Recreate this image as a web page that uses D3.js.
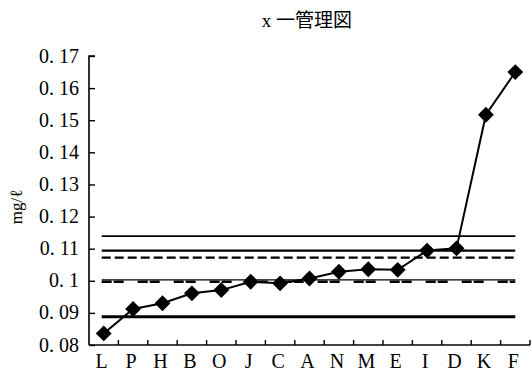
<!DOCTYPE html>
<html>
<head>
<meta charset="utf-8">
<script src="https://cdn.jsdelivr.net/npm/d3@7"></script>
<style>
  html, body { margin: 0; padding: 0; background: #fff; }
  svg { display: block; }
</style>
</head>
<body>
<svg id="chart" width="532" height="376"></svg>
<script>
// Laboratories, sorted by their mean result
const labs = ["L","P","H","B","O","J","C","A","N","M","E","I","D","K","F"];
// Mean concentration per laboratory (mg/ℓ)
const means = [0.0836,0.0912,0.0930,0.0961,0.0971,0.0997,0.0992,0.1007,0.1028,0.1036,0.1034,0.1094,0.1101,0.1517,0.1650];
// Y axis tick values
const yTicks = [0.08,0.09,0.10,0.11,0.12,0.13,0.14,0.15,0.16,0.17];
const yTickLabels = ["0. 08","0. 09","0. 1","0. 11","0. 12","0. 13","0. 14","0. 15","0. 16","0. 17"];
// Control limits: solid lines
const solidLimits = [0.1139, 0.1094, 0.0888];
const solidWidths = [1.6, 2.2, 3.2];
// Control limits: dashed lines
const dashedLimits = [0.1072];
// Centre line (drawn solid and dashed together)
const centreLine = [0.1003, 0.0997];

const svg = d3.select("#chart");
const serif = "'Liberation Serif','DejaVu Serif',serif";

const x = d3.scaleBand().domain(labs).range([89, 530]);
const y = d3.scaleLinear().domain([0.08, 0.17]).range([345, 56]);
const cx = d => x(d) + x.bandwidth() / 2;

// Title
svg.append("text")
  .attr("x", 307).attr("y", 27)
  .attr("text-anchor", "middle")
  .attr("font-family", "'Liberation Serif','Noto Sans CJK JP',serif")
  .attr("font-size", 19)
  .text("x 一管理図");

// Y axis (ticks pointing inward)
const yAxis = d3.axisRight(y)
  .tickValues(yTicks)
  .tickSize(6)
  .tickFormat("");
const gy = svg.append("g").attr("transform", "translate(89,0)").call(yAxis);
gy.select(".domain").attr("d", `M6,${y(0.17)}H0V${y(0.08)}`).attr("stroke", "#000").attr("stroke-width", 1.6);
gy.selectAll(".tick line").attr("stroke", "#000").attr("stroke-width", 1.4);

svg.append("g").selectAll("text")
  .data(yTicks)
  .join("text")
  .attr("x", 79)
  .attr("y", d => y(d) + 6.5)
  .attr("text-anchor", "end")
  .attr("font-family", serif)
  .attr("font-size", 20)
  .text((d, i) => yTickLabels[i]);

// Y axis title
svg.append("text")
  .attr("transform", "translate(22,207) rotate(-90)")
  .attr("text-anchor", "middle")
  .attr("font-family", serif)
  .attr("font-size", 17)
  .text("mg/ℓ");

// X axis: band boundaries as small upward ticks
const bounds = d3.range(labs.length + 1).map(i => 89 + i * x.step());
svg.append("line")
  .attr("x1", 89).attr("x2", 530)
  .attr("y1", y(0.08)).attr("y2", y(0.08))
  .attr("stroke", "#000").attr("stroke-width", 1.6);
svg.append("g").selectAll("line")
  .data(bounds.slice(1))
  .join("line")
  .attr("x1", d => d).attr("x2", d => d)
  .attr("y1", y(0.08)).attr("y2", y(0.08) - 5)
  .attr("stroke", "#000").attr("stroke-width", 1.4);

svg.append("g").selectAll("text")
  .data(labs)
  .join("text")
  .attr("x", d => cx(d) - 2)
  .attr("y", 368)
  .attr("text-anchor", "middle")
  .attr("font-family", serif)
  .attr("font-size", 20)
  .text(d => d);

// Limit lines
const x0 = cx(labs[0]) - 2, x1 = cx(labs[labs.length - 1]);
svg.append("g").selectAll("line")
  .data(solidLimits)
  .join("line")
  .attr("x1", x0).attr("x2", x1)
  .attr("y1", d => y(d)).attr("y2", d => y(d))
  .attr("stroke", "#000")
  .attr("stroke-width", (d, i) => solidWidths[i]);

svg.append("g").selectAll("line")
  .data(dashedLimits)
  .join("line")
  .attr("x1", x0).attr("x2", x1)
  .attr("y1", d => y(d)).attr("y2", d => y(d))
  .attr("stroke", "#000")
  .attr("stroke-width", 2.2)
  .attr("stroke-dasharray", "9,4");

svg.append("line")
  .attr("x1", x0).attr("x2", x1)
  .attr("y1", y(centreLine[0])).attr("y2", y(centreLine[0]))
  .attr("stroke", "#000").attr("stroke-width", 1.2);
svg.append("line")
  .attr("x1", x0).attr("x2", x1)
  .attr("y1", y(centreLine[1])).attr("y2", y(centreLine[1]))
  .attr("stroke", "#000").attr("stroke-width", 2.4)
  .attr("stroke-dasharray", "10,2,10,14");

// Series line and diamond markers
const line = d3.line().x((d, i) => cx(labs[i])).y(d => y(d));
svg.append("path")
  .datum(means)
  .attr("d", line)
  .attr("fill", "none")
  .attr("stroke", "#000")
  .attr("stroke-width", 2);

const diamond = d3.symbol().type(d3.symbolDiamond2).size(160);
svg.append("g").selectAll("path")
  .data(means)
  .join("path")
  .attr("transform", (d, i) => `translate(${cx(labs[i])},${y(d)})`)
  .attr("d", diamond)
  .attr("fill", "#000");
</script>
</body>
</html>
